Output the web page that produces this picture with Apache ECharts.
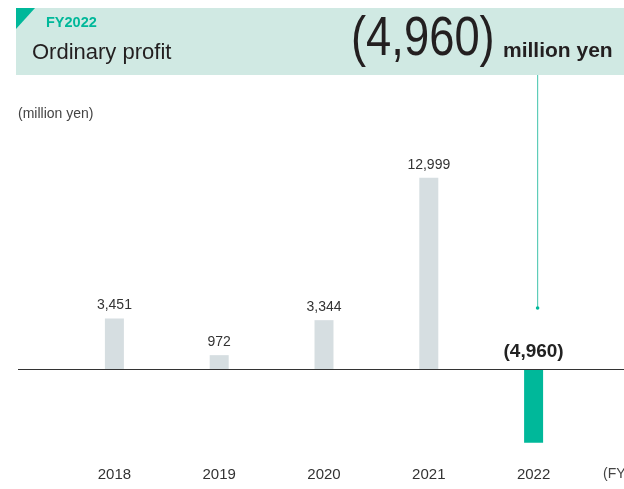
<!DOCTYPE html>
<html>
<head>
<meta charset="utf-8">
<script src="https://cdn.jsdelivr.net/npm/echarts@6/dist/echarts.min.js"></script>
<style>
  html, body { margin: 0; padding: 0; background: #fff; }
  #chart { width: 624px; height: 489px; }
</style>
</head>
<body>
<div id="chart"></div>
<script>
  // data
  var years = ['2018', '2019', '2020', '2021', '2022'];
  var profit = [3451, 972, 3344, 12999, -4960];
  var headline = '(4,960)';

  var grey = '#d6dee1';
  var teal = '#00b89a';
  var font = 'Liberation Sans, Arial, sans-serif';

  function fmt(v) {
    var s = Math.abs(v).toLocaleString('en-US');
    return v < 0 ? '(' + s + ')' : s;
  }

  var chart = echarts.init(document.getElementById('chart'));

  var barData = profit.map(function (v) {
    var item = { value: v, itemStyle: { color: v < 0 ? teal : grey } };
    if (v < 0) {
      item.label = { fontWeight: 'bold', fontSize: 19, color: '#222', distance: 8 };
    }
    return item;
  });

  chart.setOption({
    animation: false,
    grid: { left: 62, width: 524, top: 163, height: 295 },
    xAxis: {
      type: 'category',
      data: years,
      axisLine: { show: false, onZero: false },
      axisTick: { show: false },
      axisLabel: { color: '#333', fontSize: 15, fontFamily: font, margin: 9 }
    },
    yAxis: {
      type: 'value',
      min: -6000,
      max: 14000,
      show: false
    },
    series: [{
      type: 'bar',
      data: barData,
      barWidth: 19,
      label: {
        show: true,
        position: 'top',
        distance: 6,
        color: '#333',
        fontSize: 14,
        fontFamily: font,
        formatter: function (p) { return fmt(p.value); }
      }
    }]
  });

  // decorations positioned from the axes
  var zeroY = chart.convertToPixel({ yAxisIndex: 0 }, 0);
  var lastX = chart.convertToPixel({ xAxisIndex: 0 }, years[years.length - 1]);

  function txt(x, y, s, fill, f, extra) {
    var el = { type: 'text', x: x, y: y, style: { text: s, fill: fill, font: f, verticalAlign: 'middle' } };
    for (var k in extra) el[k] = extra[k];
    return el;
  }

  chart.setOption({
    graphic: [
      { type: 'rect', shape: { x: 16, y: 8, width: 608, height: 67 }, style: { fill: '#d0e9e3' } },
      { type: 'polygon', shape: { points: [[16, 8], [35, 8], [16, 29]] }, style: { fill: teal } },
      txt(46, 22.5, 'FY2022', teal, 'bold 14.5px ' + font),
      txt(32, 52.5, 'Ordinary profit', '#231f20', '22px ' + font),
      txt(351, 40, headline, '#231f20', '56px ' + font, { scaleX: 0.81 }),
      txt(503, 51, 'million yen', '#231f20', 'bold 21px ' + font),
      { type: 'line', shape: { x1: lastX + 4, y1: 75, x2: lastX + 4, y2: 308 }, style: { stroke: '#5fcdb9', lineWidth: 1.2 } },
      { type: 'circle', shape: { cx: lastX + 4, cy: 308, r: 1.8 }, style: { fill: teal } },
      { type: 'line', shape: { x1: 18, y1: zeroY, x2: 624, y2: zeroY }, style: { stroke: '#333', lineWidth: 1.2 }, z: 10 },
      txt(18, 114, '(million yen)', '#444', '14px ' + font),
      txt(603, 474, '(FY)', '#444', '14px ' + font)
    ]
  });
</script>
</body>
</html>
